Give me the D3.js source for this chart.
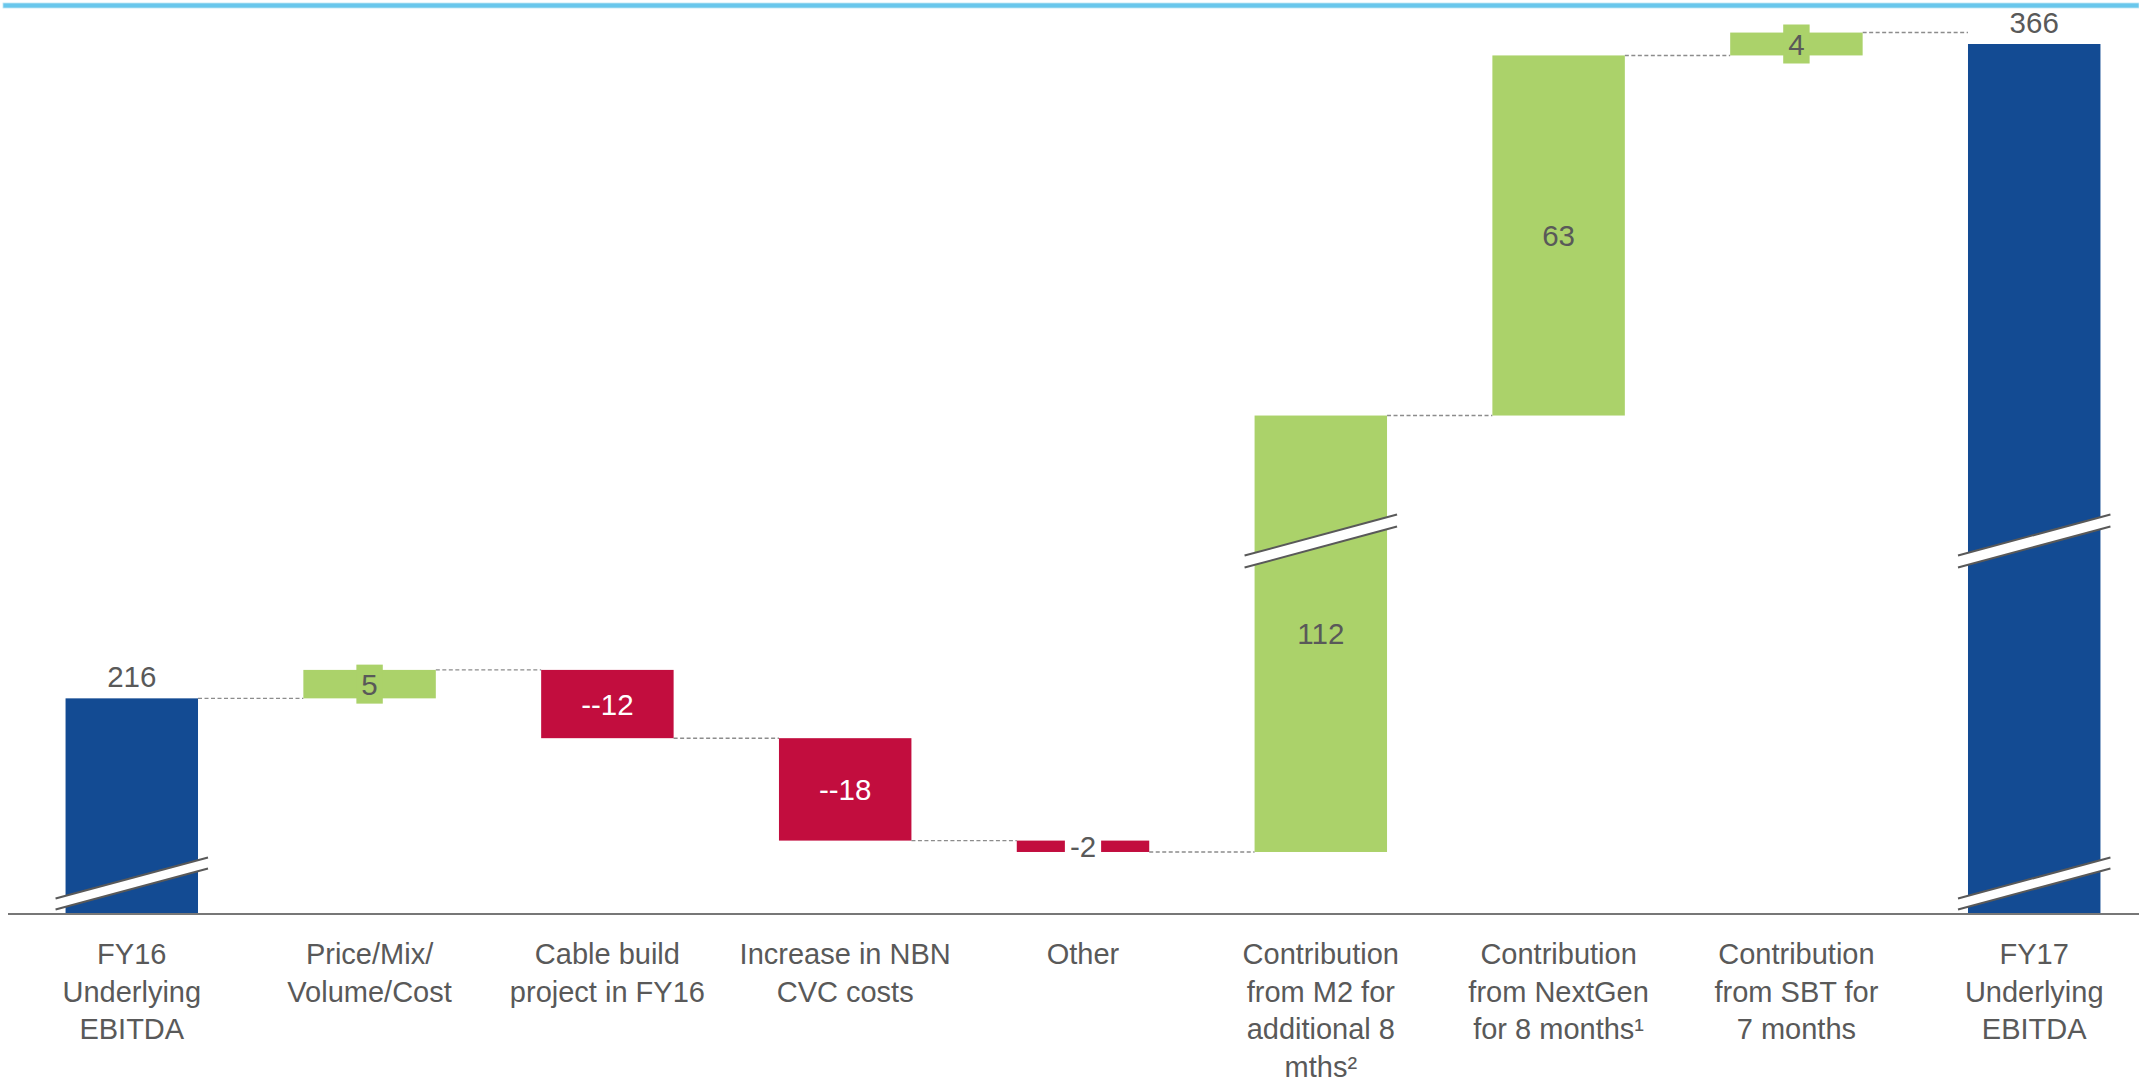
<!DOCTYPE html>
<html>
<head>
<meta charset="utf-8">
<script src="https://cdn.jsdelivr.net/npm/d3@7"></script>
<style>
  html, body { margin: 0; padding: 0; background: #fff; }
  svg { display: block; }
  text { font-family: "Liberation Sans", Arial, sans-serif; }
</style>
</head>
<body>
<svg id="chart" width="2139" height="1084"></svg>
<script>
// EBITDA bridge FY16 -> FY17 (A$m)
const categories = ["FY16", "PriceMix", "Cable", "NBN", "Other", "M2", "NextGen", "SBT", "FY17"];
const categoryLines = [
  ["FY16", "Underlying", "EBITDA"],
  ["Price/Mix/", "Volume/Cost"],
  ["Cable build", "project in FY16"],
  ["Increase in NBN", "CVC costs"],
  ["Other"],
  ["Contribution", "from M2 for", "additional 8", "mths²"],
  ["Contribution", "from NextGen", "for 8 months¹"],
  ["Contribution", "from SBT for", "7 months"],
  ["FY17", "Underlying", "EBITDA"]
];
const kinds = ["total", "up", "down", "down", "down", "up", "up", "up", "total"];
const values = [216, 5, -12, -18, -2, 112, 63, 4, 366];
const valueLabels = ["216", "5", "--12", "--18", "-2", "112", "63", "4", "366"];

const W = 2139, H = 1084;
const svg = d3.select("#chart");

const colors = { total: "#134B93", up: "#ABD26A", down: "#C20D3E" };
const textGray = "#595959";

// running totals for the waterfall
const bars = [];
let run = 0;
values.forEach((v, i) => {
  let lo, hi;
  if (kinds[i] === "total") { lo = null; hi = v; run = v; }
  else { const s = run; run = run + v; lo = Math.min(s, run); hi = Math.max(s, run); }
  bars.push({ key: categories[i], kind: kinds[i], value: v, lo, hi, end: run, label: valueLabels[i], lines: categoryLines[i] });
});

// x: band scale
const x = d3.scaleBand()
  .domain(categories)
  .range([8, 2158])
  .paddingInner(0.443)
  .paddingOuter(0.242);

// y: broken value axis (lower and upper segments, compressed gap between)
const breakLo = 242.6, breakHi = 280.1;
const y = d3.scaleLinear()
  .domain([178.1, breakLo, breakHi, 366])
  .range([914, 547, 535, 44]);
const yBase = y(178.1);

// top rule
svg.append("rect")
  .attr("x", 3).attr("y", 3).attr("width", W - 3).attr("height", 5)
  .attr("fill", "#69C7EC").attr("stroke", "#BDE6F6").attr("stroke-width", 0.8);

// connectors
const conn = svg.append("g");
bars.forEach((b, i) => {
  if (i === bars.length - 1) return;
  const nb = bars[i + 1];
  conn.append("line")
    .attr("x1", x(b.key) + x.bandwidth())
    .attr("x2", x(nb.key))
    .attr("y1", y(b.end)).attr("y2", y(b.end))
    .attr("stroke", "#8C8C8C").attr("stroke-width", 1.4)
    .attr("stroke-dasharray", "4 2.5");
});

// bars
svg.append("g").selectAll("rect")
  .data(bars).join("rect")
  .attr("x", d => x(d.key))
  .attr("width", x.bandwidth())
  .attr("y", d => y(d.hi))
  .attr("height", d => (d.kind === "total" ? yBase : y(d.lo)) - y(d.hi))
  .attr("fill", d => colors[d.kind]);

// axis break marks
const brk = svg.append("g");
function drawBreak(cx, yu, yl) {
  const hw = x.bandwidth() / 2 + 10, m = 0.27;
  const pu = [[cx - hw, yu + m * hw], [cx + hw, yu - m * hw]];
  const pl = [[cx - hw, yl + m * hw], [cx + hw, yl - m * hw]];
  brk.append("polygon")
    .attr("points", [pu[0], pu[1], pl[1], pl[0]].map(p => p.join(",")).join(" "))
    .attr("fill", "#fff");
  [pu, pl].forEach(p => brk.append("line")
    .attr("x1", p[0][0]).attr("y1", p[0][1]).attr("x2", p[1][0]).attr("y2", p[1][1])
    .attr("stroke", "#595959").attr("stroke-width", 2));
}
bars.forEach(b => {
  const cx = x(b.key) + x.bandwidth() / 2;
  const lo = b.kind === "total" ? -Infinity : b.lo;
  if (lo < breakLo && b.hi > breakHi) drawBreak(cx, y(breakHi), y(breakLo));
  if (b.kind === "total") drawBreak(cx, yBase - 36, yBase - 25);
});

// baseline
svg.append("line")
  .attr("x1", 8).attr("x2", W).attr("y1", yBase).attr("y2", yBase)
  .attr("stroke", "#777").attr("stroke-width", 2);

// value labels
const lab = svg.append("g").attr("font-size", 29.5).attr("text-anchor", "middle");
bars.forEach(b => {
  const cx = x(b.key) + x.bandwidth() / 2;
  if (b.kind === "total") {
    lab.append("text").attr("x", cx).attr("y", y(b.hi) - 11)
      .attr("fill", textGray).text(b.label);
    return;
  }
  const top = y(b.hi), bot = y(b.lo), mid = (top + bot) / 2;
  if (bot - top < 32) {
    // small step: label sits on a tab over the bar
    const t = lab.append("text").attr("x", cx).attr("y", mid).attr("dy", "0.36em")
      .attr("fill", textGray).text(b.label);
    const bb = t.node().getBBox();
    lab.insert("rect", () => t.node())
      .attr("x", cx - bb.width / 2 - 5).attr("width", bb.width + 10)
      .attr("y", mid - 19.5).attr("height", 39)
      .attr("fill", b.kind === "up" ? colors.up : "#fff");
  } else {
    lab.append("text").attr("x", cx).attr("y", mid).attr("dy", "0.36em")
      .attr("fill", b.kind === "down" ? "#fff" : textGray).text(b.label);
  }
});

// category labels
const cat = svg.append("g").attr("font-size", 29).attr("text-anchor", "middle").attr("fill", textGray);
bars.forEach(b => {
  const t = cat.append("text").attr("x", x(b.key) + x.bandwidth() / 2).attr("y", 964);
  b.lines.forEach((ln, i) => {
    t.append("tspan").attr("x", x(b.key) + x.bandwidth() / 2).attr("dy", i === 0 ? 0 : 37.6).text(ln);
  });
});
</script>
</body>
</html>
